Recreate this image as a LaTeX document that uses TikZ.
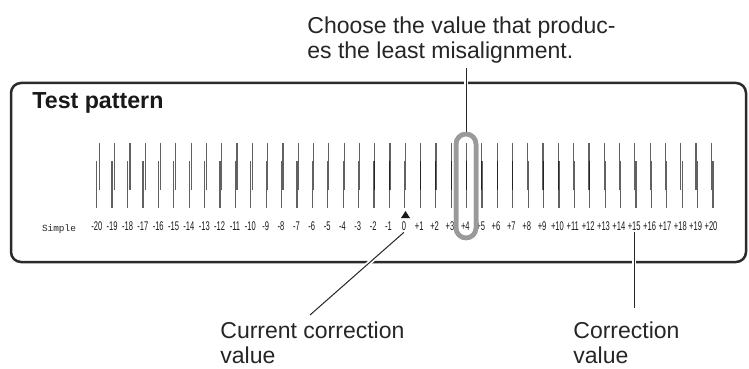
\documentclass[tikz,border=0pt]{standalone}
\usepackage{fontspec}
\setmainfont{Liberation Sans}
\newfontfamily\monofnt{Liberation Mono}
\usetikzlibrary{calc}
\definecolor{frame}{HTML}{2B2B2B}
\definecolor{ovalgray}{HTML}{9A9A9A}
\begin{document}
\begin{tikzpicture}[x=0.5pt,y=-0.5pt,
  boxline/.style={draw=frame,line width=1.25pt,rounded corners=5pt},
  lbl/.style={inner sep=0pt,align=left,font=\fontsize{11.5}{12.5}\selectfont,text=black!85},
  title/.style={inner sep=0pt,font=\fontsize{11.6}{13}\selectfont\bfseries,text=black!90},
  bar/.style={line width=0.6pt,draw=black,opacity=0.62},
  num/.style={inner sep=0.5pt,font=\fontsize{6.3}{7}\selectfont,text=black!90},
  leader/.style={draw=black!85,line width=0.5pt},
  halo/.style={draw=white,line width=2.2pt},
  selring/.style={draw=ovalgray,line width=2.25pt,rounded corners=5pt,inner sep=0pt,minimum width=10pt,minimum height=52pt}
]
\useasboundingbox (0,0) rectangle (749,369);
\fill[white] (0,0) rectangle (749,369);

% frame
\draw[boxline] (11,83) rectangle (746,262);

% texts
\node[title,anchor=north west] (tp) at (32,92) {Test pattern};
\node[lbl,anchor=north west] (choose) at (307,16.5) {Choose the value that produc-\\es the least misalignment.};
\node[lbl,anchor=north west] (current) at (220,321) {Current correction\\value};
\node[lbl,anchor=north west] (corr) at (573,321) {Correction\\value};
\node[inner sep=0pt,anchor=base,font=\monofnt\fontsize{4.7}{5}\selectfont,text=black!85] (simple) at (59,231) {Simple};

% bars and numbers
\foreach \k in {-20,...,20}{
  \pgfmathsetmacro\xk{405.1+15.355*\k}
  \pgfmathsetmacro\dk{-(\k-4)*0.11}
  \pgfmathsetmacro\xt{\xk+\dk/2}
  \pgfmathsetmacro\xb{\xk-\dk/2}
  \pgfmathsetmacro\xl{\xk-1.2}
  \draw[bar] (\xt,143) -- (\xt,190);
  \draw[bar] (\xb,161) -- (\xb,208);
  \node[num] (n\k) at (\xl,226.5) {\scalebox{0.6}[1]{\ifnum\k>0 +\fi\k}};
}

% current marker
\fill[black!90] (401,218) -- (410,218) -- (405.5,211) -- cycle;

% leaders
\coordinate (ctop) at (466,68);
\coordinate (ccur) at (310,315);
\coordinate (ccorr) at (633,308);
\node[selring] (sel) at (466,186) {};
\draw[halo] (ctop) -- (sel.north);
\draw[leader] (ctop) -- (sel.north);
\draw[halo] (n0.south) -- (ccur);
\draw[leader] (n0.south) -- (ccur);
\draw[halo] (n15.south) -- (n15.south |- ccorr);
\draw[leader] (n15.south) -- (n15.south |- ccorr);
\node[selring] at (466,186) {};
\end{tikzpicture}
\end{document}
